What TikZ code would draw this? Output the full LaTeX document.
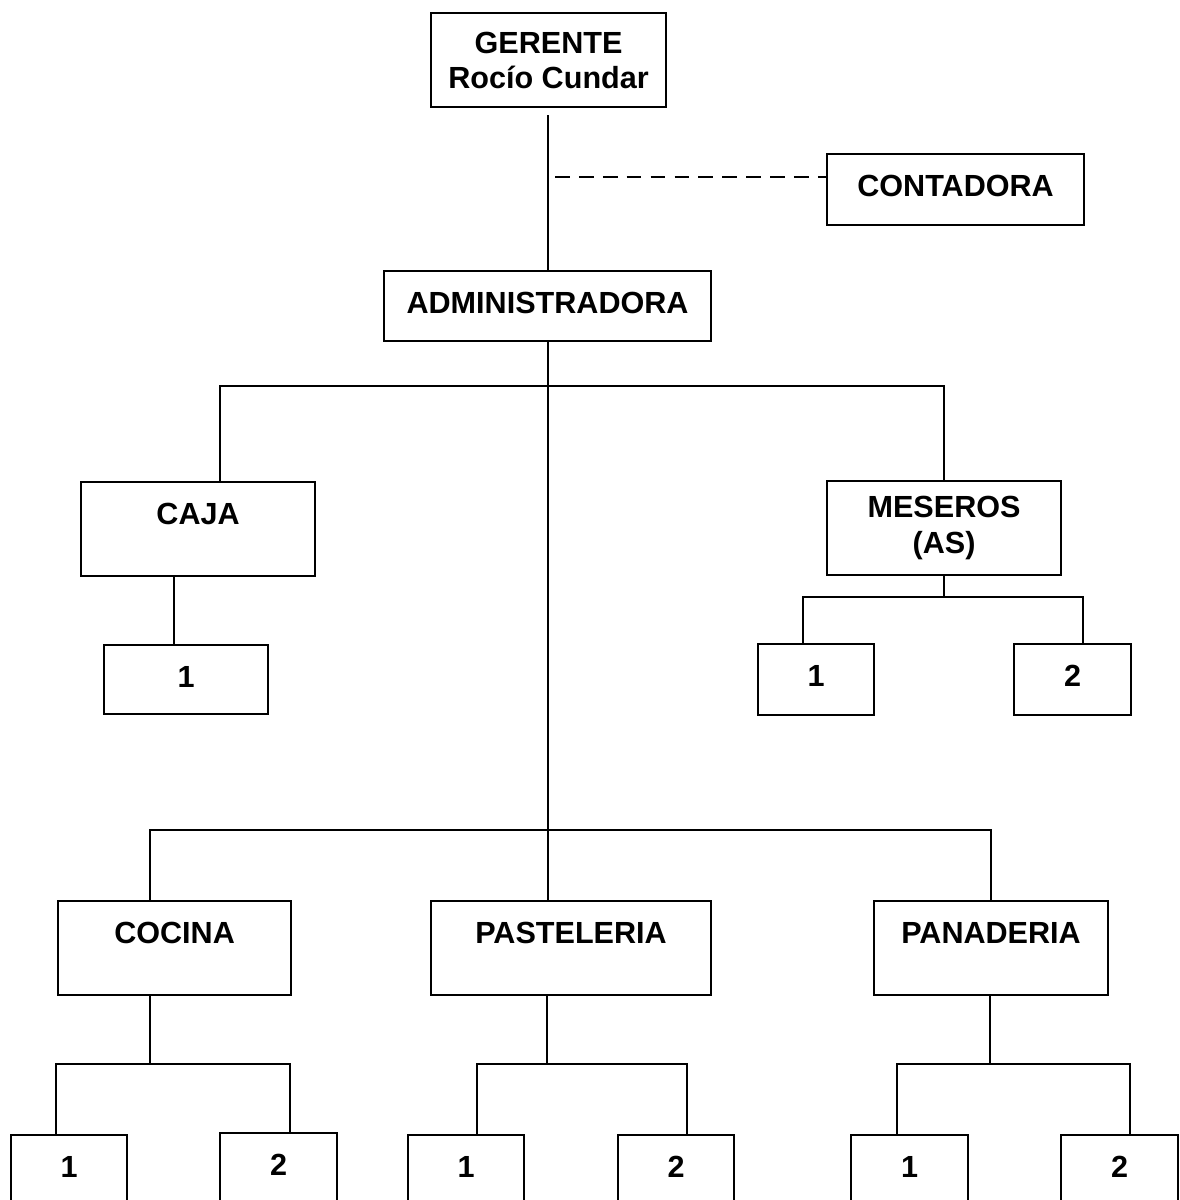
\documentclass[tikz,border=0pt]{standalone}
\usepackage{fontspec}
\setmainfont{Liberation Sans}
\usetikzlibrary{positioning}

\tikzset{
  cuadro/.style={draw, line width=0.6pt, anchor=north west, inner sep=0pt,
    font=\fontsize{8.7pt}{10pt}\selectfont\bfseries, text height=0.42cm},
  cuadro bajo/.style={cuadro, text depth=0.28cm},
  cuadro alto/.style={cuadro, text depth=0.52cm},
  jefe/.style={draw, line width=0.6pt, anchor=north west, inner sep=0pt, align=center,
    font=\fontsize{8.7pt}{10pt}\selectfont\bfseries},
  linea/.style={line width=0.6pt},
  punteada/.style={line width=0.6pt, dash pattern=on 4.2pt off 2.6pt}
}

\begin{document}
\begin{tikzpicture}
    \useasboundingbox (0,0) rectangle (11.8,-12);

    % gerencia y staff
    \node[jefe, minimum width=2.35cm, minimum height=0.94cm] (ger) at (4.30,-0.12) {GERENTE\\Rocío Cundar};
    \node[cuadro, minimum width=2.57cm, text depth=0.29cm] (cont) at (8.26,-1.53) {CONTADORA};
    \node[cuadro bajo, minimum width=3.27cm] (adm) at (3.83,-2.70) {ADMINISTRADORA};

    % primer nivel
    \node[cuadro alto, minimum width=2.34cm] (caja) at (0.80,-4.81) {CAJA};
    \node[jefe, minimum width=2.34cm, minimum height=0.94cm] (mes) at (8.26,-4.80) {MESEROS\\(AS)};
    \node[cuadro bajo, minimum width=1.64cm, text depth=0.27cm] (caja1) at (1.03,-6.44) {1};
    \node[cuadro bajo, minimum width=1.16cm, text depth=0.29cm] (mes1) at (7.57,-6.43) {1};
    \node[cuadro bajo, minimum width=1.17cm, text depth=0.29cm] (mes2) at (10.13,-6.43) {2};

    % produccion
    \node[cuadro alto, minimum width=2.33cm] (coc) at (0.57,-9.00) {COCINA};
    \node[cuadro alto, minimum width=2.80cm] (past) at (4.30,-9.00) {PASTELERIA};
    \node[cuadro alto, minimum width=2.34cm] (pan) at (8.73,-9.00) {PANADERIA};

    \node[cuadro bajo, minimum width=1.16cm] (coc1) at (0.10,-11.34) {1};
    \node[cuadro bajo, minimum width=1.17cm] (coc2) at (2.19,-11.32) {2};
    \node[cuadro bajo, minimum width=1.16cm] (past1) at (4.07,-11.34) {1};
    \node[cuadro bajo, minimum width=1.16cm] (past2) at (6.17,-11.34) {2};
    \node[cuadro bajo, minimum width=1.17cm] (pan1) at (8.50,-11.34) {1};
    \node[cuadro bajo, minimum width=1.17cm] (pan2) at (10.60,-11.34) {2};

    % puntos de las ramas
    \coordinate (asesor) at (5.55,-1.77);
    \coordinate (r1) at (5.48,-3.86);
    \coordinate (r2) at (mes.south |- 0,-5.97);
    \coordinate (r3) at (5.48,-8.30);
    \coordinate (rc) at (1.50,-10.64);
    \coordinate (rp) at (5.47,-10.64);
    \coordinate (rn) at (9.90,-10.64);

    % lineas de mando
    \draw[linea] ([yshift=-0.07cm]ger.south -| r1) -- (adm.north -| r1);
    \draw[punteada] (asesor) -- (asesor -| cont.west);
    \draw[linea] (adm.south -| r1) -- (past.north -| r1);
    \draw[linea] (caja.north -| 2.20,0) |- (r1) -| (mes.north);
    \draw[linea] (caja.south -| 1.74,0) -- (caja1.north -| 1.74,0);
    \draw[linea] (mes.south) -- (r2);
    \draw[linea] (mes1.north -| 8.03,0) |- (r2) -| (mes2.north -| 10.83,0);
    \draw[linea] (coc.north -| 1.50,0) |- (r3) -| (pan.north);

    % cocina, pasteleria, panaderia
    \draw[linea] (coc.south -| rc) -- (rc);
    \draw[linea] (coc1.north -| 0.56,0) |- (rc) -| (coc2.north -| 2.90,0);
    \draw[linea] (past.south -| rp) -- (rp);
    \draw[linea] (past1.north -| 4.77,0) |- (rp) -| (past2.north -| 6.87,0);
    \draw[linea] (pan.south -| rn) -- (rn);
    \draw[linea] (pan1.north -| 8.97,0) |- (rn) -| (pan2.north -| 11.30,0);
\end{tikzpicture}
\end{document}
